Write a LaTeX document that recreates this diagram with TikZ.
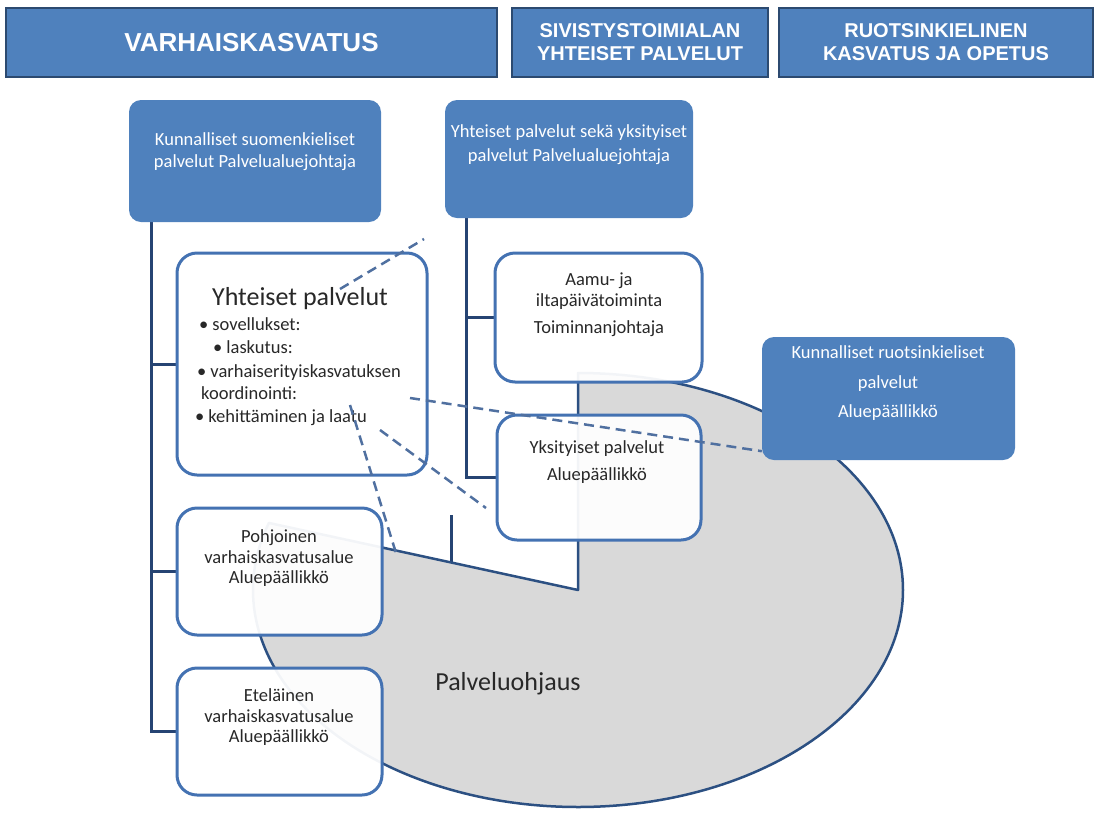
\documentclass[tikz,border=0pt]{standalone}
\usepackage{fontspec}
\setmainfont{Carlito}
\newfontfamily\headfont{Liberation Sans}
\usetikzlibrary{positioning}

\definecolor{boxblue}{RGB}{79,129,189}
\definecolor{hdrline}{RGB}{44,74,112}
\definecolor{wbline}{RGB}{68,114,178}
\definecolor{connline}{RGB}{38,68,115}
\definecolor{pieline}{RGB}{44,80,130}
\definecolor{piegrey}{RGB}{217,217,217}
\definecolor{dashblue}{RGB}{80,112,160}
\definecolor{txtdark}{RGB}{40,40,40}

\pgfdeclarelayer{background}
\pgfsetlayers{background,main}

\begin{document}
\begin{tikzpicture}[x=1pt, y=-1pt,
    header/.style={draw=hdrline, line width=2pt, fill=boxblue, text=white, align=center, inner sep=0pt},
    bluebox/.style={fill=boxblue, rounded corners=12pt, inner sep=0pt},
    whitebox/.style={draw=wbline, line width=3pt, fill=white, fill opacity=0.94, rounded corners=20pt, inner sep=0pt},
    btxt/.style={text=white, font=\fontsize{18.5}{22}\selectfont, anchor=base, inner sep=0pt},
    dtxt/.style={text=txtdark, font=\fontsize{18.5}{22}\selectfont, anchor=base, inner sep=0pt},
    conn/.style={draw=connline, line width=3pt},
    pieedge/.style={draw=pieline, line width=2.5pt, fill=piegrey, line join=round},
    dashline/.style={draw=dashblue, line width=2.5pt, dash pattern=on 10pt off 6pt}]
    \useasboundingbox (0,0) rectangle (1096,812);

    % Draw the three headers
    \node[header, minimum width=491, minimum height=69, font=\headfont\bfseries\fontsize{26}{30}\selectfont] (varhais) at (251.5,42.5) {VARHAISKASVATUS};
    \node[header, minimum width=256, minimum height=69, font=\headfont\bfseries\fontsize{20}{23}\selectfont] (sivist) at (640,42.5) {SIVISTYSTOIMIALAN\\YHTEISET PALVELUT};
    \node[header, minimum width=314, minimum height=69, font=\headfont\bfseries\fontsize{20}{23}\selectfont] (ruotsikasv) at (936,42.5) {RUOTSINKIELINEN\\KASVATUS JA OPETUS};

    % Draw the boxes
    \node[bluebox, minimum width=252, minimum height=122] (kunsuomi) at (255,161) {};
    \node[bluebox, minimum width=248, minimum height=118] (yhtpal) at (569,159) {};
    \node[whitebox, minimum width=250, minimum height=222] (yp) at (302,364) {};
    \node[whitebox, minimum width=207, minimum height=129] (aamu) at (598.5,317.5) {};
    \node[whitebox, minimum width=204, minimum height=125] (yks) at (599,477.5) {};
    \node[whitebox, minimum width=205, minimum height=127] (pohj) at (279.5,571.5) {};
    \node[whitebox, minimum width=205, minimum height=127] (etel) at (279.5,731.5) {};
    \node[bluebox, minimum width=253, minimum height=123] (ruotsi) at (888.5,398.5) {};

    % Lines and the pie behind the boxes
    \coordinate (k1) at ([xshift=23pt]kunsuomi.south west);
    \coordinate (y1) at ([xshift=22pt]yhtpal.south west);
    \coordinate (stubtop) at (451,515);
    \coordinate (piec) at (578,590);
    \begin{pgfonlayer}{background}
        \draw[conn] (k1) |- (etel.west);
        \draw[conn] (k1 |- yp.west) -- (yp.west);
        \draw[conn] (k1 |- pohj.west) -- (pohj.west);
        \draw[conn] (y1) |- (yks.west);
        \draw[conn] (y1 |- aamu.west) -- (aamu.west);
        \draw[conn] (stubtop) -- ++(0,60);
        \draw[pieedge] (piec) -- ++(0,-217) arc[start angle=-90, end angle=198, x radius=325, y radius=217] -- cycle;
    \end{pgfonlayer}

    % Texts of the blue boxes
    \node[btxt] (kunsuomiA) at (255,145) {Kunnalliset suomenkieliset};
    \node[btxt] (kunsuomiB) at (255,167) {palvelut Palvelualuejohtaja};
    \node[btxt] (yhtpalA) at (569,137) {Yhteiset palvelut sekä yksityiset};
    \node[btxt] (yhtpalB) at (569,161) {palvelut Palvelualuejohtaja};
    \node[btxt] (ruotsiA) at (888,358) {Kunnalliset ruotsinkieliset};
    \node[btxt] (ruotsiB) at (888,388) {palvelut};
    \node[btxt] (ruotsiC) at (888,417) {Aluepäällikkö};

    % Texts of the white boxes
    \node[dtxt, font=\fontsize{26}{30}\selectfont] (ypT) at (300,305) {Yhteiset palvelut};
    \node[dtxt, anchor=base west] (ypA) at (199,330) {\textbullet\hspace{4pt}sovellukset:};
    \node[dtxt, anchor=base west] (ypB) at (213,353) {\textbullet\hspace{4pt}laskutus:};
    \node[dtxt, anchor=base west] (ypC) at (197,377) {\textbullet\hspace{4pt}varhaiserityiskasvatuksen};
    \node[dtxt, anchor=base west] (ypD) at (201,399) {koordinointi:};
    \node[dtxt, anchor=base west] (ypE) at (195,422) {\textbullet\hspace{4pt}kehittäminen ja laatu};
    \node[dtxt] (aamuA) at (599,285) {Aamu- ja};
    \node[dtxt] (aamuB) at (599,306) {iltapäivätoiminta};
    \node[dtxt] (aamuC) at (599,333) {Toiminnanjohtaja};
    \node[dtxt] (yksA) at (597,453) {Yksityiset palvelut};
    \node[dtxt] (yksB) at (597,480) {Aluepäällikkö};
    \node[dtxt] (pohjA) at (279,542) {Pohjoinen};
    \node[dtxt] (pohjB) at (279,563) {varhaiskasvatusalue};
    \node[dtxt] (pohjC) at (279,583) {Aluepäällikkö};
    \node[dtxt] (etelA) at (279,701) {Eteläinen};
    \node[dtxt] (etelB) at (279,722) {varhaiskasvatusalue};
    \node[dtxt] (etelC) at (279,742) {Aluepäällikkö};
    \node[dtxt, font=\fontsize{26}{30}\selectfont] (ohjaus) at (508,690) {Palveluohjaus};

    % Draw the dashed lines
    \coordinate (da1) at (340,289);
    \coordinate (da2) at (424,239);
    \coordinate (db1) at (410,398);
    \coordinate (db2) at ([yshift=9pt]ruotsi.south west);
    \coordinate (dc1) at (350,405);
    \coordinate (dc2) at (396,553);
    \coordinate (dd1) at (380,430);
    \coordinate (dd2) at (486,508);
    \draw[dashline] (da1) -- (da2);
    \draw[dashline] (db1) -- (db2);
    \draw[dashline] (dc1) -- (dc2);
    \draw[dashline] (dd1) -- (dd2);
\end{tikzpicture}
\end{document}
